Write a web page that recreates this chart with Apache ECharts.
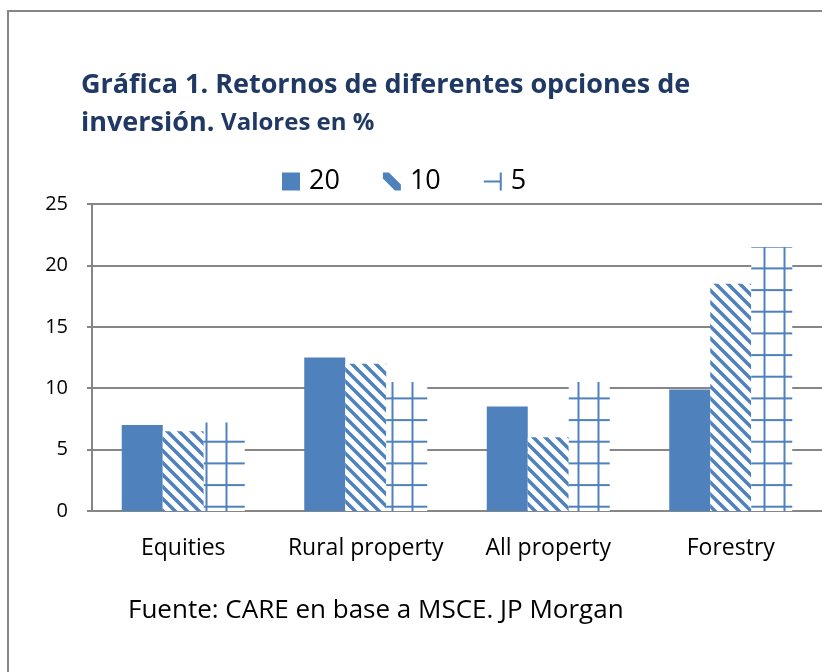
<!DOCTYPE html>
<html>
<head>
<meta charset="utf-8">
<script src="https://cdn.jsdelivr.net/npm/echarts@6/dist/echarts.min.js"></script>
<style>
  html, body { margin: 0; padding: 0; background: #fff; }
  #chart { width: 822px; height: 672px; }
</style>
</head>
<body>
<div id="chart"></div>
<script>
// datos
const categories = ['Equities', 'Rural property', 'All property', 'Forestry'];
const seriesNames = ['20', '10', '5'];
const values20 = [7.0, 12.5, 8.5, 9.9];
const values10 = [6.5, 12.0, 6.0, 18.5];
const values5 = [7.2, 10.5, 10.5, 21.5];
const yTicks = [0, 5, 10, 15, 20, 25];

const BLUE = '#4F81BD';
const FONT = "'Open Sans', sans-serif";

// trama diagonal
function stripePattern() {
    const c = document.createElement('canvas');
    c.width = 12; c.height = 12;
    const ctx = c.getContext('2d');
    ctx.fillStyle = '#fff';
    ctx.fillRect(0, 0, 12, 12);
    ctx.strokeStyle = BLUE;
    ctx.lineWidth = 3.5;
    for (let k = -12; k <= 12; k += 12) {
        ctx.beginPath();
        ctx.moveTo(k - 2, -2);
        ctx.lineTo(k + 14, 14);
        ctx.stroke();
    }
    return c;
}

// trama cuadriculada (periodo de una categoria en x)
function gridPattern() {
    const c = document.createElement('canvas');
    c.width = 186; c.height = 65;
    const ctx = c.getContext('2d');
    ctx.fillStyle = '#fff';
    ctx.fillRect(0, 0, 186, 65);
    ctx.fillStyle = BLUE;
    [7.4, 29.1, 50.7].forEach(y => ctx.fillRect(0, y, 186, 2));
    [19.5, 39.5, 59.3].forEach(x => ctx.fillRect(x, 0, 2, 65));
    return c;
}

const myChart = echarts.init(document.getElementById('chart'));

myChart.setOption({
    animation: false,
    backgroundColor: '#fff',
    textStyle: { fontFamily: FONT },
    graphic: [
        {
            type: 'rect',
            shape: { x: 8, y: 11, width: 840, height: 700 },
            style: { fill: 'none', stroke: '#868686', lineWidth: 2 },
            z: -10
        },
        {
            type: 'text',
            left: 81, top: 72,
            style: {
                text: 'Gráfica 1. Retornos de diferentes opciones de',
                fill: '#1F3864', font: "bold 27px " + FONT
            }
        },
        {
            type: 'text',
            left: 81, top: 110,
            style: {
                rich: {
                    a: { fill: '#1F3864', fontSize: 27, fontWeight: 'bold', fontFamily: FONT },
                    b: { fill: '#1F3864', fontSize: 24, fontWeight: 'bold', fontFamily: FONT }
                },
                text: '{a|inversión.}  {b|Valores en %}'
            }
        },
        {
            type: 'text',
            left: 128, top: 598,
            style: {
                text: 'Fuente: CARE en base a MSCE. JP Morgan',
                fill: '#000', font: "26px " + FONT
            }
        }
    ],
    legend: {
        data: [
            { name: seriesNames[0], icon: 'rect' },
            { name: seriesNames[1], icon: 'path://M0,0 L6,0 L18,12 L18,18 L12,18 L0,6 Z',
              itemStyle: { color: BLUE } },
            { name: seriesNames[2], icon: 'path://M0,8 L18,8 L18,10 L0,10 Z M16,0 L18,0 L18,18 L16,18 Z',
              itemStyle: { color: BLUE } }
        ],
        top: 168,
        left: 282,
        padding: 0,
        itemWidth: 18,
        itemHeight: 18,
        itemGap: 43,
        textStyle: { fontSize: 27, color: '#000', fontFamily: FONT, padding: [0, 0, 0, 4] }
    },
    grid: { left: 92, right: -14, top: 204, bottom: 161, containLabel: false },
    xAxis: {
        type: 'category',
        data: categories,
        axisLine: { lineStyle: { color: '#868686', width: 2 } },
        axisTick: { show: false },
        axisLabel: { color: '#000', fontSize: 23, margin: 26, interval: 0, fontFamily: FONT }
    },
    yAxis: {
        type: 'value',
        min: yTicks[0],
        max: yTicks[yTicks.length - 1],
        interval: 5,
        axisLine: { show: true, lineStyle: { color: '#868686', width: 2 } },
        axisTick: { show: true, length: 5, lineStyle: { color: '#868686', width: 2 } },
        axisLabel: { color: '#000', fontSize: 20, margin: 24, fontFamily: FONT },
        splitLine: { lineStyle: { color: '#868686', width: 2 } }
    },
    series: [
        {
            name: seriesNames[0], type: 'bar', data: values20,
            barWidth: 41, barGap: '0%',
            itemStyle: { color: BLUE }
        },
        {
            name: seriesNames[1], type: 'bar', data: values10,
            barWidth: 41, barGap: '0%',
            itemStyle: { color: { image: stripePattern(), repeat: 'repeat' } }
        },
        {
            name: seriesNames[2], type: 'bar', data: values5,
            barWidth: 41, barGap: '0%',
            itemStyle: { color: { image: gridPattern(), repeat: 'repeat' } }
        }
    ]
});
</script>
</body>
</html>
